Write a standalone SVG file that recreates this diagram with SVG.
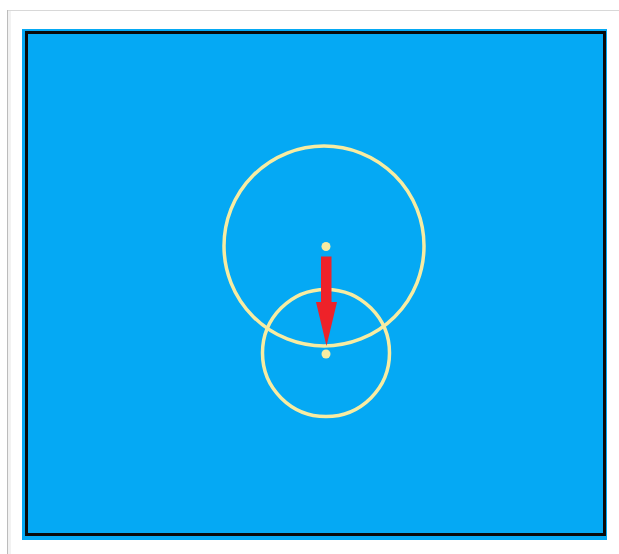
<svg xmlns="http://www.w3.org/2000/svg" width="619" height="554" viewBox="0 0 619 554">
<style>
.ring{fill:none;stroke:#f7eca2;stroke-width:3.5}
.dot{fill:#f7eca2}
</style>
<rect x="0" y="0" width="619" height="554" fill="#ffffff"/>
<line x1="7" y1="10.5" x2="619" y2="10.5" stroke="#d8d8d8" stroke-width="1"/>
<line x1="7.5" y1="10" x2="7.5" y2="554" stroke="#bcbcbc" stroke-width="1"/>
<rect x="8" y="11" width="3" height="543" fill="#f2f2f2"/>
<g id="frame">
<rect x="22" y="29" width="585" height="511" fill="#05a9f4"/>
<rect x="26.5" y="32.5" width="578" height="502" fill="none" stroke="#0a0a0a" stroke-width="3"/>
</g>
<g id="big-circle">
<circle class="ring" cx="324" cy="246" r="100"/>
<circle class="dot" cx="326" cy="246.5" r="4.5"/>
</g>
<g id="small-circle">
<circle class="ring" cx="326" cy="353" r="63.5"/>
<circle class="dot" cx="326" cy="354" r="4.5"/>
</g>
<g id="connectors">
<path d="M321 256.5 L331.5 256.5 L331.5 302 L337 302 L326.5 346 L316 302 L321 302 Z" fill="#ee2229"/>
</g>
</svg>
